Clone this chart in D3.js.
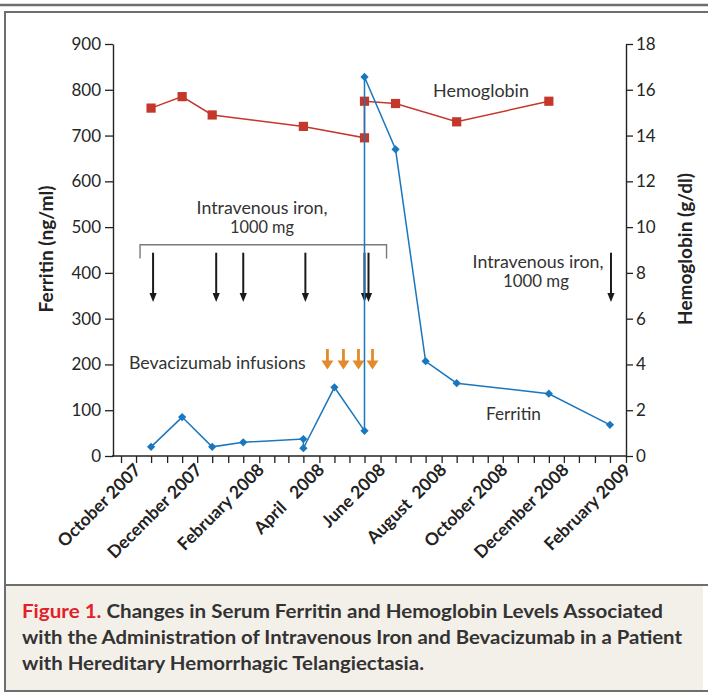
<!DOCTYPE html>
<html><head><meta charset="utf-8">
<script src="https://cdn.jsdelivr.net/npm/d3@7"></script>
<style>
body{margin:0;background:#fff;}
text{font-family:Lato,"Open Sans",sans-serif;}
</style></head><body>
<svg id="c" width="708" height="693"></svg>
<script>
// ---------- data ----------
const ferritinDates  = ["2007-10-16","2007-11-16","2007-12-16","2008-01-16","2008-03-16","2008-03-16","2008-04-16","2008-05-16","2008-05-16","2008-06-16","2008-07-16","2008-08-16","2008-11-16","2009-01-16"];
const ferritinValues = [20, 85, 20, 30, 37, 17, 150, 55, 828, 670, 207, 159, 136, 68];
const hemoDates  = ["2007-10-16","2007-11-16","2007-12-16","2008-03-16","2008-05-16","2008-05-16","2008-06-16","2008-08-16","2008-11-16"];
const hemoValues = [15.2, 15.7, 14.9, 14.4, 13.9, 15.5, 15.4, 14.6, 15.5];
const ironDates  = ["2007-10-18","2007-12-20","2008-01-16","2008-03-18","2008-05-16","2008-05-20"];
const ironLateDates = ["2009-01-17"];
const bevacizumabDates = ["2008-04-09","2008-04-25","2008-05-10","2008-05-24"];
const ferritinTicks = [0,100,200,300,400,500,600,700,800,900];
const hemoTicks = [0,2,4,6,8,10,12,14,16,18];
const xLabelDates = ["2007-10-01","2007-12-01","2008-02-01","2008-04-01","2008-06-01","2008-08-01","2008-10-01","2008-12-01","2009-02-01"];
const xLabels = ["October 2007","December 2007","February 2008","April   2008","June 2008","August  2008","October 2008","December 2008","February 2009"];
const xDomain = ["2007-09-07","2009-02-01"];
const bracketDates = ["2007-10-05","2008-06-07"];

// ---------- setup ----------
const svg = d3.select("#c");
const parse = d3.timeParse("%Y-%m-%d");
const RED="#c4372b", BLUE="#1b77bd", ORANGE="#e58a28", INK="#222", GRAY="#6e6e6e";
const x = d3.scaleTime().domain(xDomain.map(parse)).range([112,626]);
const yF = d3.scaleLinear().domain([0,900]).range([456,44]);
const yH = d3.scaleLinear().domain([0,18]).range([456,44]);

function fit(sel, w){ sel.each(function(){ const t=d3.select(this); const fs=parseFloat(t.style("font-size")); const L=this.getComputedTextLength(); t.style("font-size",(fs*w/L)+"px"); }); return sel; }

// frame
svg.append("rect").attr("x",5).attr("y",585).attr("width",698).attr("height",106).attr("fill","#f3f0e9");
svg.append("line").attr("x1",0).attr("x2",708).attr("y1",5).attr("y2",5).attr("stroke",GRAY).attr("stroke-width",2.5);
svg.append("path").attr("d","M5,692V12H708").attr("fill","none").attr("stroke",GRAY).attr("stroke-width",2);
svg.append("line").attr("x1",5).attr("x2",708).attr("y1",585).attr("y2",585).attr("stroke",GRAY).attr("stroke-width",2);
svg.append("line").attr("x1",5).attr("x2",708).attr("y1",691).attr("y2",691).attr("stroke",GRAY).attr("stroke-width",2);

// axes
const axL = svg.append("g").attr("transform","translate(113,0)")
  .call(d3.axisLeft(yF).tickValues(ferritinTicks).tickSize(8).tickSizeOuter(0).tickPadding(4));
const axR = svg.append("g").attr("transform","translate(626,0)")
  .call(d3.axisRight(yH).tickValues(hemoTicks).tickSize(7).tickSizeOuter(0).tickPadding(3));
const minor = d3.timeMonth.range(parse("2007-09-01"), parse("2009-02-02")).flatMap(d=>[d, d3.timeDay.offset(d,15)])
  .filter(d=>d>=x.domain()[0] && d<=x.domain()[1]);
const axB = svg.append("g").attr("transform","translate(0,456)")
  .call(d3.axisBottom(x).tickValues(minor).tickSize(7).tickSizeOuter(0).tickFormat(""));
[axL,axR,axB].forEach(a=>{
  a.attr("font-size",null).attr("font-family",null);
  a.selectAll(".domain").attr("stroke",INK).attr("stroke-width",1.4);
  a.selectAll(".tick line").attr("stroke",INK).attr("stroke-width",1.3);
  a.selectAll("text").attr("fill","#262626").style("font-size","17px");
});
axB.select(".domain").attr("d","M112,0H626");

svg.append("g").selectAll("text").data(xLabels).join("text")
  .attr("transform",(d,i)=>`translate(${x(parse(xLabelDates[i]))+6},${471}) rotate(-45)`)
  .attr("text-anchor","end").style("white-space","pre").style("font-weight","700")
  .style("font-size","17.5px").attr("fill",INK).text(d=>d);

// axis titles
svg.append("text").attr("transform","translate(53,249) rotate(-90)").attr("text-anchor","middle")
  .style("font-weight","700").style("font-size","16.5px").attr("fill",INK).text("Ferritin (ng/ml)").call(fit,127);
svg.append("text").attr("transform","translate(692,249) rotate(-90)").attr("text-anchor","middle")
  .style("font-weight","700").style("font-size","16.5px").attr("fill",INK).text("Hemoglobin (g/dl)").call(fit,152);

// bracket
const bx = bracketDates.map(d=>x(parse(d)));
svg.append("path").attr("d",`M${bx[0]},258.5V244.7H${bx[1]}V258.5`).attr("fill","none").attr("stroke","#7a7a7a").attr("stroke-width",1.4);

// black arrows
function blackArrow(g, cx){
  g.append("line").attr("x1",cx).attr("x2",cx).attr("y1",252.7).attr("y2",295).attr("stroke","#1a1a1a").attr("stroke-width",2);
  g.append("path").attr("d",`M${cx-3.6},293L${cx+3.6},293L${cx},302Z`).attr("fill","#1a1a1a");
}
const ga = svg.append("g");
ironDates.concat(ironLateDates).forEach(d=>blackArrow(ga, x(parse(d))));

// orange arrows
const go = svg.append("g");
bevacizumabDates.forEach(d=>{
  const cx=x(parse(d));
  go.append("line").attr("x1",cx).attr("x2",cx).attr("y1",349).attr("y2",362).attr("stroke",ORANGE).attr("stroke-width",2.8);
  go.append("path").attr("d",`M${cx-6},360.5L${cx+6},360.5L${cx},369.5Z`).attr("fill",ORANGE);
});

// annotation text
const ann = (t,xx,yy,anchor,w)=>{ const s=svg.append("text").attr("x",xx).attr("y",yy).attr("text-anchor",anchor)
  .style("font-size","15.5px").attr("fill","#333").text(t); if(w) s.call(fit,w); return s; };
ann("Intravenous iron,",262,214,"middle",131);
ann("1000 mg",262,233,"middle",64);
ann("Intravenous iron,",538,268,"middle",131);
ann("1000 mg",536,287,"middle",66);
ann("Bevacizumab infusions",129,369,"start",177);
ann("Hemoglobin",433,97,"start",96);
ann("Ferritin",486,420,"start",55);

// hemoglobin series
const hemo = hemoDates.map((d,i)=>({date:parse(d), v:hemoValues[i]}));
svg.append("path").datum(hemo).attr("fill","none").attr("stroke",RED).attr("stroke-width",1.5)
  .attr("d",d3.line().x(d=>x(d.date)).y(d=>yH(d.v)));
svg.append("g").selectAll("rect").data(hemo).join("rect")
  .attr("x",d=>x(d.date)-4.6).attr("y",d=>yH(d.v)-4.6).attr("width",9.2).attr("height",9.2).attr("fill",RED);

// ferritin series
const fer = ferritinDates.map((d,i)=>({date:parse(d), v:ferritinValues[i]}));
svg.append("path").datum(fer).attr("fill","none").attr("stroke",BLUE).attr("stroke-width",1.5)
  .attr("d",d3.line().x(d=>x(d.date)).y(d=>yF(d.v)));
svg.append("g").selectAll("path").data(fer).join("path")
  .attr("transform",d=>`translate(${x(d.date)},${yF(d.v)}) rotate(45)`)
  .attr("d",d3.symbol(d3.symbolSquare,34)).attr("fill",BLUE);

// caption
const capLines = [
  [["Figure 1. ","#e3202a"],["Changes in Serum Ferritin and Hemoglobin Levels Associated","#333"]],
  [["with the Administration of Intravenous Iron and Bevacizumab in a Patient","#333"]],
  [["with Hereditary Hemorrhagic Telangiectasia.","#333"]]
];
const capW = [641, 660, 402];
capLines.forEach((ln,i)=>{
  const t = svg.append("text").attr("x",22).attr("y",618+i*26).style("font-weight","700").style("font-size","18.5px")
    .style("white-space","pre").attr("textLength",capW[i]).attr("lengthAdjust","spacingAndGlyphs");
  ln.forEach(s=>t.append("tspan").attr("fill",s[1]).text(s[0]));
});
</script></body></html>
